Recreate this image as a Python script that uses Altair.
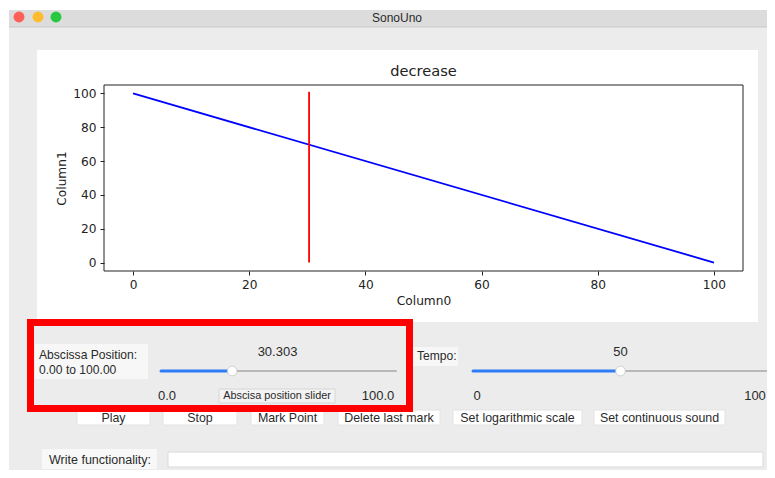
import altair as alt
import pandas as pd

# ---------------- data ----------------
col0 = [0, 100]
col1 = [100, 0]
marker_x = [30.303]
marker_y0 = [0]
marker_y1 = [101]
x_ticks = [0, 20, 40, 60, 80, 100]
y_ticks = [0, 20, 40, 60, 80, 100]
plot_title = "decrease"
abscissa_value = 30.303
abscissa_range = [0.0, 100.0]
tempo_value = 50
tempo_range = [0, 100]
button_labels = ["Play", "Stop", "Mark Point", "Delete last mark",
                 "Set logarithmic scale", "Set continuous sound"]

# ---------------- layout (pixels relative to plot area) ----------------
W, H = 639, 186
FONT_UI = "Liberation Sans"
FONT_MPL = "DejaVu Sans"
TXT = "#2a2a2a"

button_x = [(-27, 46), (59, 133), (147, 220), (234, 336), (349, 478), (490, 621)]
btn_y = (325, 340)
ab_track = (57, 292)
tempo_track = (369, 664)
track_y = 286


def knob(track, value, rng):
    return track[0] + (value - rng[0]) / (rng[1] - rng[0]) * (track[1] - track[0])


ab_k = knob(ab_track, abscissa_value, abscissa_range)
tp_k = knob(tempo_track, tempo_value, tempo_range)

rects = [
    # x, x2, y, y2, fill, stroke
    (-96, 663, -77, -75, "#ffffff", "transparent"),
    (-96, -95, -77, 385, "#ffffff", "transparent"),
    (-95, 663, -75, -58, "#dcdcdc", "transparent"),
    (-95, 663, -58.5, -57.5, "#c8c8c8", "transparent"),
    (-67, 654, -35, 237, "#ffffff", "transparent"),
    (-69, 44, 259, 294, "#f7f7f7", "transparent"),
    (309, 354, 262, 281, "#f7f7f7", "transparent"),
    (115, 231, 304, 318, "#f3f3f3", "#d6d6d6"),
    (-62, 53, 364, 384, "#f8f8f8", "transparent"),
    (64, 659, 367, 382, "#ffffff", "#dadada"),
]
for (a, b) in button_x:
    rects.append((a, b, btn_y[0], btn_y[1], "#ffffff", "#e3e3e3"))
rect_df = pd.DataFrame(rects, columns=["x", "x2", "y", "y2", "fill", "stroke"])

tracks_df = pd.DataFrame([
    (ab_track[0], ab_k, track_y, "#2f7df6", 3),
    (ab_k, ab_track[1], track_y, "#b8b8b8", 2),
    (tempo_track[0], tp_k, track_y, "#2f7df6", 3),
    (tp_k, tempo_track[1], track_y, "#b8b8b8", 2),
], columns=["x", "x2", "y", "color", "w"])

knobs_df = pd.DataFrame({"x": [ab_k, tp_k], "y": [track_y, track_y]})

lights_df = pd.DataFrame({"x": [-85, -66, -48], "y": [-68, -68, -68],
                          "c": ["#fe5f57", "#febc2e", "#28c840"]})

left_txt = pd.DataFrame([
    ("Abscissa Position:", -65, 270, 12.1),
    ("0.00 to 100.00", -65, 285, 12.1),
    ("Tempo:", 313, 271, 12.1),
    ("Write functionality:", -55, 375, 12.5),
], columns=["t", "x", "y", "s"])

center_rows = [
    ("SonoUno", 293, -67, 12),
    (f"{abscissa_value}", (ab_track[0] + ab_track[1]) / 2 - 1, 267, 13),
    (f"{abscissa_range[0]}", 63, 311, 13),
    ("Abscisa position slider", 173, 311, 10.9),
    (f"{abscissa_range[1]}", 274, 311, 13),
    (f"{tempo_value}", tp_k, 267, 13),
    (f"{tempo_range[0]}", 373, 311, 13),
    (f"{tempo_range[1]}", 651, 311, 13),
]
for lbl, (a, b) in zip(button_labels, button_x):
    center_rows.append((lbl, (a + b) / 2, 332.5, 12.4))
center_txt = pd.DataFrame(center_rows, columns=["t", "x", "y", "s"])

redbox_df = pd.DataFrame({"x": [-73.5], "x2": [305.5], "y": [237.5], "y2": [323.5]})
title_df = pd.DataFrame({"t": [plot_title], "x": [W / 2], "y": [-13]})


def PX(f):
    return alt.X(f"{f}:Q", scale=None, axis=None)


def PY(f):
    return alt.Y(f"{f}:Q", scale=None, axis=None)


rect_layer = alt.Chart(rect_df).mark_rect(strokeWidth=1).encode(
    x=PX("x"), x2="x2:Q", y=PY("y"), y2="y2:Q",
    fill=alt.Fill("fill:N", scale=None, legend=None),
    stroke=alt.Stroke("stroke:N", scale=None, legend=None),
)

track_layer = alt.Chart(tracks_df).mark_rule(strokeCap="round").encode(
    x=PX("x"), x2="x2:Q", y=PY("y"),
    color=alt.Color("color:N", scale=None, legend=None),
    strokeWidth=alt.StrokeWidth("w:Q", scale=None, legend=None),
)

knob_layer = alt.Chart(knobs_df).mark_circle(
    size=95, color="#ffffff", opacity=1, stroke="#c4c4c4", strokeWidth=0.8
).encode(x=PX("x"), y=PY("y"))

lights_layer = alt.Chart(lights_df).mark_circle(size=120, opacity=1).encode(
    x=PX("x"), y=PY("y"), color=alt.Color("c:N", scale=None, legend=None)
)

left_layer = alt.Chart(left_txt).mark_text(
    align="left", baseline="middle", font=FONT_UI, color=TXT
).encode(x=PX("x"), y=PY("y"), text="t:N",
         size=alt.Size("s:Q", scale=None, legend=None))

center_layer = alt.Chart(center_txt).mark_text(
    align="center", baseline="middle", font=FONT_UI, color=TXT
).encode(x=PX("x"), y=PY("y"), text="t:N",
         size=alt.Size("s:Q", scale=None, legend=None))

title_layer = alt.Chart(title_df).mark_text(
    align="center", baseline="middle", font=FONT_MPL, fontSize=14.6, color="#222222"
).encode(x=PX("x"), y=PY("y"), text="t:N")

redbox_layer = alt.Chart(redbox_df).mark_rect(
    filled=False, stroke="#ff0000", strokeWidth=7
).encode(x=PX("x"), x2="x2:Q", y=PY("y"), y2="y2:Q")

frame_layer = alt.Chart(pd.DataFrame({"a": [0]})).mark_rect(
    filled=False, stroke="#222222", strokeWidth=1
).encode(x=alt.value(0), x2=alt.value(W), y=alt.value(0), y2=alt.value(H))

# ---------------- main plot ----------------
xs = alt.Scale(domain=[-5, 105], nice=False, zero=False)
ys = alt.Scale(domain=[-5, 105], nice=False, zero=False)
x_axis = alt.Axis(values=x_ticks, title="Column0", labelPadding=3, titlePadding=4, zindex=1)
y_axis = alt.Axis(values=y_ticks, title="Column1", labelPadding=4, titlePadding=4, zindex=1)

line_df = pd.DataFrame({"Column0": col0, "Column1": col1})
line_layer = alt.Chart(line_df).mark_line(color="#0000ff", strokeWidth=1.8).encode(
    x=alt.X("Column0:Q", scale=xs, axis=x_axis),
    y=alt.Y("Column1:Q", scale=ys, axis=y_axis),
)

marker_df = pd.DataFrame({"Column0": marker_x, "Column1": marker_y0, "top": marker_y1})
marker_layer = alt.Chart(marker_df).mark_rule(color="#ff0000", strokeWidth=1.8).encode(
    x=alt.X("Column0:Q", scale=xs, axis=x_axis),
    y=alt.Y("Column1:Q", scale=ys, axis=y_axis),
    y2="top:Q",
)

chart = alt.layer(
    rect_layer, track_layer, knob_layer, lights_layer, left_layer, center_layer,
    title_layer, frame_layer, line_layer, marker_layer, redbox_layer,
).properties(
    width=W, height=H,
    autosize=alt.AutoSizeParams(type="none"),
    padding={"left": 96, "top": 77, "right": 24, "bottom": 199},
    background="#ececec",
).configure_view(stroke=None).configure_axis(
    domain=False, grid=False, tickSize=4, tickColor="#222222", tickWidth=1,
    labelFont=FONT_MPL, labelFontSize=12.2, labelColor="#222222",
    titleFont=FONT_MPL, titleFontSize=12.2, titleFontWeight="normal",
    titleColor="#222222",
)

chart.save("out.html", embed_options={"renderer": "svg", "actions": False})
